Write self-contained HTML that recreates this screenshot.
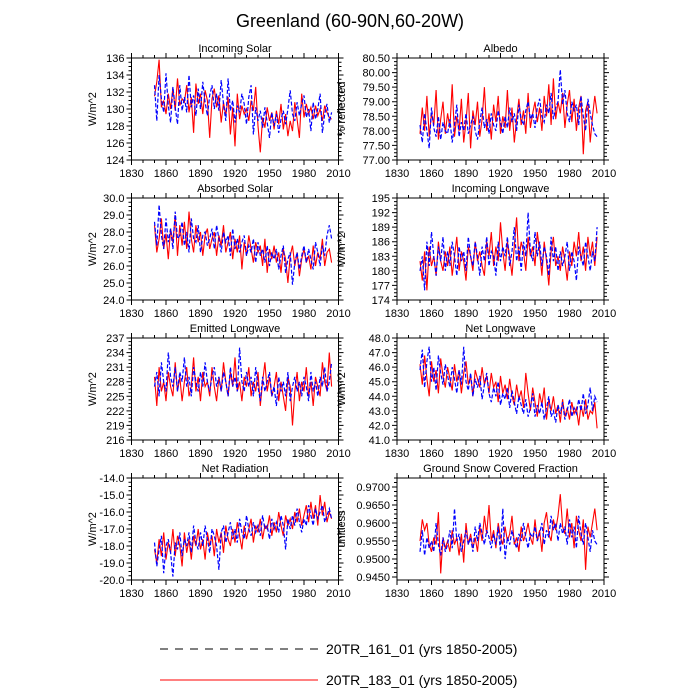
<!DOCTYPE html>
<html><head><meta charset="utf-8"><style>
html,body{margin:0;padding:0;background:#fff;}
svg{display:block;font-family:"Liberation Sans",sans-serif;}
</style></head><body>
<svg id="chart" width="700" height="700" viewBox="0 0 700 700">
<text x="350" y="27" font-size="18" text-anchor="middle">Greenland (60-90N,60-20W)</text>
<g id="panels"></g>
<g>
<line x1="160" y1="649" x2="318" y2="649" stroke="#000" stroke-width="1" stroke-dasharray="8,7"/>
<text x="326" y="654" font-size="14">20TR_161_01 (yrs 1850-2005)</text>
<line x1="160" y1="680" x2="318" y2="680" stroke="#f00" stroke-width="1"/>
<text x="326" y="685" font-size="14">20TR_183_01 (yrs 1850-2005)</text>
</g>
</svg>
<script>
const years=[1850,1852,1854,1856,1858,1860,1862,1864,1866,1868,1870,1872,1874,1876,1878,1880,1882,1884,1886,1888,1890,1892,1894,1896,1898,1900,1902,1904,1906,1908,1910,1912,1914,1916,1918,1920,1922,1924,1926,1928,1930,1932,1934,1936,1938,1940,1942,1944,1946,1948,1950,1952,1954,1956,1958,1960,1962,1964,1966,1968,1970,1972,1974,1976,1978,1980,1982,1984,1986,1988,1990,1992,1994,1996,1998,2000,2002,2004];
const xTickLabels=["1830","1860","1890","1920","1950","1980","2010"];

const solarRed=[131.5,133.2,135.8,130.2,131.0,129.4,131.8,130.0,132.5,129.8,133.6,130.4,131.2,
130.8,132.8,129.6,131.4,127.2,133.0,130.6,131.8,129.4,132.2,131.0,126.6,131.2,
132.4,130.2,131.6,128.4,130.8,129.2,131.4,127.0,130.2,125.6,131.8,128.8,130.4,
129.4,130.0,128.6,131.0,129.8,132.6,128.0,124.9,129.0,127.8,130.2,128.6,129.6,
127.6,129.8,128.2,130.6,127.6,129.4,126.8,128.6,127.4,130.8,128.8,126.6,131.8,
129.0,130.6,129.4,130.2,128.8,130.4,129.2,130.0,128.6,130.4,129.6,129.0,128.8];
const solarBlue=[132.8,128.6,134.0,131.2,129.6,134.2,130.4,128.4,132.6,130.2,128.2,132.8,129.8,
131.4,129.6,134.0,130.2,131.6,129.2,132.4,130.0,133.2,130.8,129.2,131.6,132.8,
130.0,131.8,129.8,133.4,130.6,128.6,133.6,129.8,131.0,128.4,130.4,129.6,131.8,
130.6,128.2,131.4,132.8,127.0,130.2,128.6,129.8,127.8,130.2,128.4,126.6,129.6,
128.0,129.4,127.2,128.8,129.8,128.2,130.0,132.2,129.4,128.6,130.8,129.2,130.6,
131.6,129.0,130.0,127.4,130.8,128.8,130.0,131.8,127.2,129.4,130.6,128.4,129.6];
const albedoRed=[77.9,78.8,78.0,79.2,77.8,78.6,78.2,79.4,77.7,78.4,79.0,77.9,78.6,
78.1,79.6,77.8,78.5,78.0,79.1,77.6,78.3,79.3,77.4,78.7,78.2,79.0,
77.8,78.4,79.5,78.0,78.6,77.7,78.9,78.3,79.2,77.9,78.5,78.1,79.4,
78.0,78.8,77.6,78.4,79.1,78.2,78.7,77.9,79.3,78.1,78.6,79.0,78.3,
78.8,78.0,79.2,78.5,79.6,78.2,79.8,78.4,79.0,78.6,79.3,78.1,78.9,
79.4,78.3,79.1,78.0,78.8,79.2,77.2,78.7,79.0,77.6,78.5,79.2,78.6];
const albedoBlue=[78.2,77.6,78.6,78.0,77.4,78.8,78.1,77.8,78.5,77.7,78.3,78.0,77.9,
78.4,77.6,78.2,78.9,77.8,78.3,78.0,78.6,77.9,78.2,78.5,78.0,77.7,
78.3,78.8,78.1,78.4,77.9,78.6,78.2,78.0,78.7,78.3,77.9,78.5,78.1,
78.8,78.3,78.6,78.0,78.9,78.4,78.2,78.7,79.0,78.4,78.6,78.1,78.8,
79.1,78.5,78.3,78.9,78.6,79.3,78.4,78.8,79.0,80.1,78.9,79.4,78.6,
78.3,79.0,78.7,78.9,78.2,79.2,78.5,78.0,79.1,78.6,78.2,77.9,77.8];
const absRed=[28.4,26.8,27.6,28.8,27.0,27.9,26.4,28.2,27.4,29.0,26.6,28.4,27.2,
28.6,27.0,29.2,27.6,26.8,28.4,27.4,28.0,26.6,27.8,28.2,27.0,27.6,
28.0,26.6,27.8,27.2,28.4,26.8,27.4,28.0,26.4,27.6,26.8,27.8,25.8,
27.4,26.6,27.8,27.0,26.2,27.4,26.8,27.2,26.0,27.6,25.6,27.0,26.4,
27.2,26.2,26.8,25.6,27.0,26.4,25.0,26.6,27.2,26.0,26.8,25.4,26.4,
27.0,26.2,26.6,25.8,27.2,26.0,26.8,26.4,27.6,26.0,26.8,27.0,26.2];
const absBlue=[28.6,27.2,29.6,27.8,27.0,28.8,27.4,28.2,27.0,29.2,27.6,27.8,28.6,
27.2,28.0,26.8,28.8,27.6,27.4,28.4,26.8,27.8,28.0,27.2,27.6,28.2,
27.0,28.4,27.6,26.8,28.0,27.4,27.8,26.6,28.2,27.0,27.6,26.8,27.4,
27.8,26.6,27.2,26.8,27.6,26.2,27.4,26.6,27.0,26.2,27.2,26.0,26.8,
26.4,27.0,25.8,26.6,27.2,25.6,26.4,26.8,24.9,26.2,26.8,25.8,26.6,
27.2,26.2,27.0,26.4,25.8,27.4,26.8,26.0,27.2,26.6,27.8,28.4,27.6];
const inLwRed=[182,178,184,176,185,181,183,179,186,182,180,184,181,
185,179,183,187,180,184,182,178,185,183,180,186,182,
184,181,179,186,183,188,181,185,182,190,184,180,186,
183,179,185,191,182,186,184,180,187,183,185,181,188,
184,179,186,182,177,184,187,181,183,180,185,182,178,
184,181,186,183,188,182,185,180,187,183,186,181,187];
const inLwBlue=[180,183,176,186,181,188,183,179,185,182,187,180,184,
181,186,183,179,185,182,184,180,187,183,181,186,183,
179,185,182,187,181,184,183,179,186,182,185,183,187,
181,184,189,182,185,180,186,183,192,184,182,188,183,
186,181,185,183,179,187,182,185,180,184,181,183,186,
180,184,182,178,185,183,181,186,183,180,184,182,189];
const emRed=[229,223,231,226,228,224,230,227,225,232,226,229,224,
228,231,225,227,233,226,229,224,230,227,228,225,231,
227,224,229,226,232,228,225,230,227,233,226,228,224,
229,227,231,225,228,226,230,223,228,232,226,229,225,
227,230,224,228,225,222,229,227,219,226,230,224,228,
226,231,225,228,223,229,227,225,232,228,226,234,227];
const emBlue=[227,230,225,232,228,226,234,229,227,231,226,230,228,
233,227,229,225,231,228,226,230,227,232,228,226,229,
231,227,229,226,230,228,225,231,227,229,226,235,228,
226,230,227,229,225,231,227,224,229,226,228,230,225,
227,223,229,226,228,225,230,224,227,229,226,228,225,
229,227,224,230,226,228,225,229,227,231,226,228,232];
const netLwRed=[46.2,44.8,46.8,45.2,44.0,46.4,45.0,45.8,44.2,46.6,45.4,44.6,46.0,
45.2,44.4,46.2,45.0,45.8,44.2,45.6,46.4,44.8,45.4,44.0,45.8,45.2,
44.6,46.0,44.8,45.4,44.2,45.6,44.6,45.0,43.6,45.4,44.2,44.8,43.8,
45.2,44.0,43.4,44.8,43.8,44.4,43.2,45.6,44.2,43.0,44.6,43.6,42.6,
44.2,43.4,44.6,42.4,43.8,43.0,44.0,42.8,43.4,42.2,43.8,42.6,43.2,
42.4,43.6,42.8,43.2,42.0,43.4,42.6,43.8,42.4,43.0,42.8,43.6,41.8];
const netLwBlue=[45.8,47.2,44.6,46.4,47.4,45.0,46.0,44.4,46.8,45.6,44.8,46.2,45.4,
44.6,46.0,45.2,44.2,45.8,44.8,47.4,45.0,44.4,45.6,44.0,45.2,44.6,
45.4,43.8,44.8,45.6,44.2,43.6,44.6,44.0,45.0,43.4,44.2,43.8,44.6,
43.2,44.4,43.6,42.8,44.0,43.4,42.8,43.8,42.6,43.2,44.2,42.6,43.4,
42.8,43.6,42.4,43.2,44.0,42.6,43.0,42.2,43.4,42.8,43.6,42.4,43.0,
43.8,42.6,43.2,42.8,43.8,43.0,44.2,42.8,43.4,44.6,43.0,44.0,43.6];
const netRadRed=[-18.2,-19.0,-17.6,-18.6,-17.2,-18.8,-17.8,-18.4,-17.0,-18.6,-17.4,-18.0,-19.2,
-17.2,-18.4,-17.6,-18.8,-17.4,-18.0,-17.0,-18.2,-17.6,-18.8,-17.2,-18.0,-17.4,
-18.6,-17.0,-17.8,-17.2,-18.4,-16.8,-17.6,-18.0,-17.0,-17.8,-16.6,-17.4,-18.2,
-16.8,-17.6,-17.0,-16.4,-17.8,-16.8,-17.2,-16.4,-17.6,-16.8,-17.0,-16.2,-17.4,
-16.6,-17.2,-16.0,-16.8,-17.4,-16.2,-16.8,-16.4,-17.0,-16.0,-16.6,-15.8,-16.8,
-16.2,-15.6,-16.6,-15.4,-16.4,-15.6,-16.8,-15.0,-16.2,-15.4,-16.6,-16.0,-16.4];
const netRadBlue=[-17.8,-19.2,-18.2,-17.4,-19.6,-18.0,-17.6,-18.4,-19.8,-17.8,-18.2,-17.2,-18.6,
-17.6,-18.0,-17.2,-18.4,-16.8,-17.8,-18.2,-17.2,-18.0,-16.8,-17.6,-18.4,-17.0,
-17.4,-18.0,-19.4,-17.2,-16.8,-17.8,-17.2,-16.6,-17.6,-17.0,-17.8,-16.4,-17.2,
-17.6,-16.2,-17.0,-17.4,-16.6,-17.2,-16.8,-17.4,-16.2,-17.0,-16.8,-17.6,-16.4,
-17.0,-16.6,-17.2,-16.2,-16.8,-18.2,-16.4,-17.0,-16.2,-16.8,-15.8,-16.6,-17.2,
-16.4,-16.8,-15.6,-16.2,-16.8,-15.8,-16.4,-16.0,-15.6,-16.6,-16.2,-15.8,-16.4];
const snowRed=[0.9550,0.9610,0.9580,0.9600,0.9540,0.9520,0.9560,0.9540,0.9630,0.9460,0.9560,0.9530,0.9550,
0.9520,0.9580,0.9540,0.9560,0.9510,0.9570,0.9490,0.9600,0.9540,0.9570,0.9530,0.9560,0.9520,
0.9590,0.9550,0.9620,0.9570,0.9650,0.9550,0.9580,0.9530,0.9600,0.9560,0.9540,0.9590,0.9550,
0.9570,0.9620,0.9540,0.9560,0.9520,0.9590,0.9550,0.9570,0.9600,0.9560,0.9540,0.9610,0.9550,
0.9580,0.9520,0.9600,0.9630,0.9570,0.9550,0.9610,0.9580,0.9620,0.9680,0.9590,0.9570,0.9640,
0.9560,0.9600,0.9530,0.9620,0.9580,0.9550,0.9610,0.9470,0.9590,0.9560,0.9600,0.9640,0.9580];
const snowBlue=[0.9520,0.9580,0.9510,0.9560,0.9530,0.9550,0.9520,0.9600,0.9540,0.9510,0.9560,0.9520,0.9540,
0.9580,0.9530,0.9640,0.9550,0.9570,0.9520,0.9550,0.9580,0.9540,0.9560,0.9520,0.9590,0.9550,
0.9600,0.9570,0.9540,0.9580,0.9560,0.9530,0.9570,0.9540,0.9590,0.9520,0.9640,0.9500,0.9560,
0.9540,0.9580,0.9550,0.9530,0.9570,0.9550,0.9600,0.9560,0.9530,0.9570,0.9560,0.9590,0.9550,
0.9570,0.9600,0.9540,0.9580,0.9560,0.9620,0.9580,0.9600,0.9550,0.9600,0.9570,0.9590,0.9540,
0.9610,0.9560,0.9590,0.9530,0.9620,0.9570,0.9540,0.9600,0.9560,0.9520,0.9580,0.9550,0.9540];

const solarTicks=["124","126","128","130","132","134","136"];
const albedoTicks=["77.00","77.50","78.00","78.50","79.00","79.50","80.00","80.50"];
const absTicks=["24.0","25.0","26.0","27.0","28.0","29.0","30.0"];
const inLwTicks=["174","177","180","183","186","189","192","195"];
const emTicks=["216","219","222","225","228","231","234","237"];
const netLwTicks=["41.0","42.0","43.0","44.0","45.0","46.0","47.0","48.0"];
const netRadTicks=["-20.0","-19.0","-18.0","-17.0","-16.0","-15.0","-14.0"];
const snowTicks=["0.9450","0.9500","0.9550","0.9600","0.9650","0.9700"];

const panels=[
 {name:"incoming-solar",title:"Incoming Solar",yl:"W/m^2",col:0,row:0,ymin:124,ymax:136,ticks:solarTicks,red:solarRed,blue:solarBlue},
 {name:"albedo",title:"Albedo",yl:"% reflected",col:1,row:0,ymin:77,ymax:80.5,ticks:albedoTicks,red:albedoRed,blue:albedoBlue},
 {name:"absorbed-solar",title:"Absorbed Solar",yl:"W/m^2",col:0,row:1,ymin:24,ymax:30,ticks:absTicks,red:absRed,blue:absBlue},
 {name:"incoming-longwave",title:"Incoming Longwave",yl:"W/m^2",col:1,row:1,ymin:174,ymax:195,ticks:inLwTicks,red:inLwRed,blue:inLwBlue},
 {name:"emitted-longwave",title:"Emitted Longwave",yl:"W/m^2",col:0,row:2,ymin:216,ymax:237,ticks:emTicks,red:emRed,blue:emBlue},
 {name:"net-longwave",title:"Net Longwave",yl:"W/m^2",col:1,row:2,ymin:41,ymax:48,ticks:netLwTicks,red:netLwRed,blue:netLwBlue},
 {name:"net-radiation",title:"Net Radiation",yl:"W/m^2",col:0,row:3,ymin:-20,ymax:-14,ticks:netRadTicks,red:netRadRed,blue:netRadBlue},
 {name:"ground-snow-fraction",title:"Ground Snow Covered Fraction",yl:"unitless",col:1,row:3,ymin:0.94417,ymax:0.9725,ticks:snowTicks,red:snowRed,blue:snowBlue}
];

const NS="http://www.w3.org/2000/svg";
const root=document.getElementById("panels");
function mk(tag,attrs,parent){const e=document.createElementNS(NS,tag);for(const k in attrs)e.setAttribute(k,attrs[k]);parent.appendChild(e);return e;}
const W=207,H=102;
panels.forEach(p=>{
  const x0=p.col?397:131.5, y0=58+p.row*140;
  const g=mk("g",{},root);
  
  
  const xs=v=>x0+(v-1830)/180*W;
  const ys=v=>y0+H-(v-p.ymin)/(p.ymax-p.ymin)*H;
  const t=mk("text",{x:x0+W/2,y:y0-6,"font-size":"11","text-anchor":"middle"},g);t.textContent=p.title;
  
  
  const yx=p.col?345:96, yc=y0+H/2;
  const yl=mk("text",{x:yx,y:yc,"font-size":"11","text-anchor":"middle",transform:`rotate(-90 ${yx} ${yc})`},g);yl.textContent=p.yl;
  
  
  const path=arr=>arr.map((v,i)=>(i?"L":"M")+xs(years[i]).toFixed(2)+","+ys(v).toFixed(2)).join("");
  const r=mk("path",{d:path(p.red),fill:"none",stroke:"#f00","stroke-width":"1.1"},g);
  
  
  const b=mk("path",{d:path(p.blue),fill:"none",stroke:"#00f","stroke-width":"1.2","stroke-dasharray":"4,2"},g);
  
  
  const fr=mk("rect",{x:x0,y:y0,width:W,height:H,fill:"none",stroke:"#000","stroke-width":"1"},g);
  
  
  let tk="";
  xTickLabels.forEach(l=>{
    const X=xs(+l);
    tk+=`M${X},${y0+H}v5M${X},${y0}v-5`;
    const tl=mk("text",{x:X,y:y0+H+17,"font-size":"11","text-anchor":"middle"},g);tl.textContent=l;
    
    
  });
  for(let yr=1840;yr<2010;yr+=10){if((yr-1830)%30){const X=xs(yr);tk+=`M${X},${y0+H}v3M${X},${y0}v-3`;}}
  const vals=p.ticks.map(Number);
  const step=vals[1]-vals[0];
  vals.forEach((v,i)=>{
    const Y=ys(v);
    tk+=`M${x0},${Y}h-5M${x0+W},${Y}h5`;
    const tl=mk("text",{x:x0-7,y:Y+4,"font-size":"11","text-anchor":"end"},g);tl.textContent=p.ticks[i];
    
    
  });
  for(let v=vals[0]-step;v<=p.ymax+step;v+=step/4){
    if(v<p.ymin-1e-9||v>p.ymax+1e-9)continue;
    const Y=ys(v);tk+=`M${x0},${Y}h-3M${x0+W},${Y}h3`;
  }
  const tp=mk("path",{d:tk,stroke:"#000","stroke-width":"1",fill:"none"},g);
  
  
});
</script>
</body></html>
